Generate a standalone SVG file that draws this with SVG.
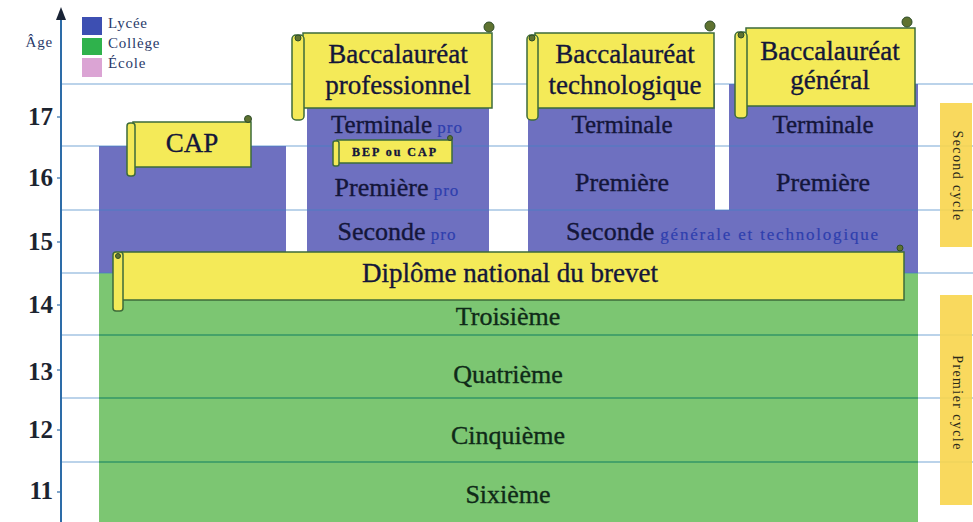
<svg xmlns="http://www.w3.org/2000/svg" width="973" height="522" viewBox="0 0 973 522" font-family="'Liberation Serif', serif">
<defs>
<style>
.lbl{font-family:"Liberation Serif",serif;fill:#14163a;stroke:#14163a;stroke-width:0.35;text-anchor:middle}
.row{font-family:"Liberation Serif",serif;fill:#0f2a18;stroke:#0f2a18;stroke-width:0.35;text-anchor:middle;font-size:26px}
.sub{fill:#2f3fae;stroke:#2f3fae;stroke-width:0.2}
.age{font-family:"Liberation Serif",serif;font-weight:bold;font-size:25px;fill:#1c2430;text-anchor:end}
.leg{font-family:"Liberation Serif",serif;font-size:15px;fill:#2a3a6a;letter-spacing:0.8px}
.scroll{fill:#f4ea58;stroke:#3d6b3a;stroke-width:1.5}
.knob{fill:#5f7230;stroke:#2e4d2a;stroke-width:1}
.grid{stroke:#3f84c4;stroke-width:1.2;stroke-opacity:0.7}
.ggrid{stroke:#2f9a50;stroke-width:1.5;stroke-opacity:0.8}
.blue{fill:#6e70c0}
.green{fill:#7cc672}
.cycle{fill:#f8d54c;opacity:0.9}
.ct{font-family:"Liberation Serif",serif;font-size:14px;letter-spacing:1.4px;fill:#2a2a1a;text-anchor:middle}
</style>
</defs>
<rect width="973" height="522" fill="#ffffff"/>

<g id="blocks">
<rect class="green" x="99" y="273" width="819" height="249"/>
<rect class="blue" x="99" y="146" width="187" height="127"/>
<rect class="blue" x="307" y="84" width="182" height="189"/>
<rect class="blue" x="528" y="84" width="187" height="126"/>
<rect class="blue" x="729" y="84" width="189" height="126"/>
<rect class="blue" x="528" y="210" width="390" height="63"/>
</g>

<g id="grid">
<line class="grid" x1="61" y1="84" x2="973" y2="84"/>
<line class="grid" x1="61" y1="146" x2="973" y2="146"/>
<line class="grid" x1="61" y1="210" x2="973" y2="210"/>
<line class="grid" x1="61" y1="273" x2="973" y2="273"/>
<line class="grid" x1="61" y1="335" x2="973" y2="335"/>
<line class="grid" x1="61" y1="398" x2="973" y2="398"/>
<line class="grid" x1="61" y1="462" x2="973" y2="462"/>
<line class="ggrid" x1="99" y1="335" x2="918" y2="335"/>
<line class="ggrid" x1="99" y1="398" x2="918" y2="398"/>
<line class="ggrid" x1="99" y1="462" x2="918" y2="462"/>
</g>

<g id="axis">
<line x1="61" y1="16" x2="61" y2="522" stroke="#2d6ca8" stroke-width="2"/>
<polygon points="61,7 56,20 66,20" fill="#1a2436"/>
<g stroke="#2d6ca8" stroke-width="1.2">
<line x1="57" y1="117" x2="61" y2="117"/>
<line x1="57" y1="178" x2="61" y2="178"/>
<line x1="57" y1="242" x2="61" y2="242"/>
<line x1="57" y1="305" x2="61" y2="305"/>
<line x1="57" y1="370" x2="61" y2="370"/>
<line x1="57" y1="430" x2="61" y2="430"/>
<line x1="57" y1="492" x2="61" y2="492"/>
</g>
<text x="53" y="47" class="leg" text-anchor="end" font-size="17" letter-spacing="0">Âge</text>
<text class="age" x="53" y="125">17</text>
<text class="age" x="53" y="186">16</text>
<text class="age" x="53" y="250">15</text>
<text class="age" x="53" y="313">14</text>
<text class="age" x="53" y="380">13</text>
<text class="age" x="53" y="438">12</text>
<text class="age" x="53" y="499">11</text>
</g>

<g id="legend">
<rect x="82" y="17" width="20" height="18" fill="#3d4fb2"/>
<rect x="82" y="38" width="20" height="17" fill="#2fb24c"/>
<rect x="82" y="58" width="20" height="19" fill="#dba4d4"/>
<text class="leg" x="108" y="28">Lycée</text>
<text class="leg" x="108" y="48">Collège</text>
<text class="leg" x="108" y="68">École</text>
</g>

<g id="labels-lycee">
<text class="lbl" x="397" y="133" font-size="25">Terminale<tspan class="sub" font-size="17" letter-spacing="1"> pro</tspan></text>
<text class="lbl" x="397" y="196" font-size="26">Première<tspan class="sub" font-size="17" letter-spacing="1"> pro</tspan></text>
<text class="lbl" x="397" y="240" font-size="26">Seconde<tspan class="sub" font-size="17" letter-spacing="1"> pro</tspan></text>
<text class="lbl" x="622" y="133" font-size="25">Terminale</text>
<text class="lbl" x="622" y="191" font-size="26">Première</text>
<text class="lbl" x="823" y="133" font-size="25">Terminale</text>
<text class="lbl" x="823" y="191" font-size="26">Première</text>
<text class="lbl" x="723" y="240" font-size="26">Seconde<tspan class="sub" font-size="17" letter-spacing="1.8"> générale et technologique</tspan></text>
</g>

<g id="labels-college">
<text class="row" x="508" y="325">Troisième</text>
<text class="row" x="508" y="383">Quatrième</text>
<text class="row" x="508" y="444">Cinquième</text>
<text class="row" x="508" y="503">Sixième</text>
</g>

<g id="cycles">
<rect class="cycle" x="940" y="103" width="32" height="144"/>
<rect class="cycle" x="940" y="295" width="32" height="210"/>
<text class="ct" transform="translate(953,176) rotate(90)">Second cycle</text>
<text class="ct" transform="translate(953,403) rotate(90)">Premier cycle</text>
</g>

<g id="cap">
<rect class="scroll" x="133" y="122" width="118" height="45"/>
<rect class="scroll" x="127" y="123" width="8" height="53" rx="3"/>
<circle class="knob" cx="248" cy="119" r="3.5"/>
<text class="lbl" x="192" y="152" font-size="27">CAP</text>
</g>

<g id="bep">
<rect class="scroll" x="337" y="140" width="115" height="23"/>
<rect class="scroll" x="333" y="141" width="6" height="25" rx="2"/>
<circle class="knob" cx="450" cy="138" r="2.5"/>
<text class="lbl" x="395" y="156" font-size="12" font-weight="bold" letter-spacing="2" fill="#3a3a10" stroke="none">BEP ou CAP</text>
</g>

<g id="bac-pro">
<rect class="scroll" x="303" y="33" width="189" height="75"/>
<rect class="scroll" x="292" y="35" width="12" height="85" rx="4"/>
<circle class="knob" cx="489" cy="27" r="5"/>
<circle class="knob" cx="298" cy="38" r="3"/>
<text class="lbl" x="398" y="63" font-size="27">Baccalauréat</text>
<text class="lbl" x="398" y="94" font-size="27">professionnel</text>
</g>

<g id="bac-techno">
<rect class="scroll" x="535" y="33" width="179" height="75"/>
<rect class="scroll" x="527" y="35" width="11" height="85" rx="4"/>
<circle class="knob" cx="710" cy="26" r="5"/>
<circle class="knob" cx="532" cy="38" r="3"/>
<text class="lbl" x="625" y="63" font-size="27">Baccalauréat</text>
<text class="lbl" x="625" y="94" font-size="27">technologique</text>
</g>

<g id="bac-general">
<rect class="scroll" x="746" y="28" width="169" height="78"/>
<rect class="scroll" x="735" y="32" width="12" height="86" rx="4"/>
<circle class="knob" cx="907" cy="22" r="5"/>
<circle class="knob" cx="741" cy="35" r="3"/>
<text class="lbl" x="830" y="60" font-size="27">Baccalauréat</text>
<text class="lbl" x="830" y="89" font-size="27">général</text>
</g>

<g id="dnb">
<rect class="scroll" x="122" y="252" width="782" height="48"/>
<rect class="scroll" x="113" y="252" width="10" height="59" rx="3"/>
<circle class="knob" cx="900" cy="248" r="3"/>
<circle class="knob" cx="118" cy="256" r="2.5"/>
<text class="lbl" x="510" y="282" font-size="27">Diplôme national du brevet</text>
</g>
</svg>
